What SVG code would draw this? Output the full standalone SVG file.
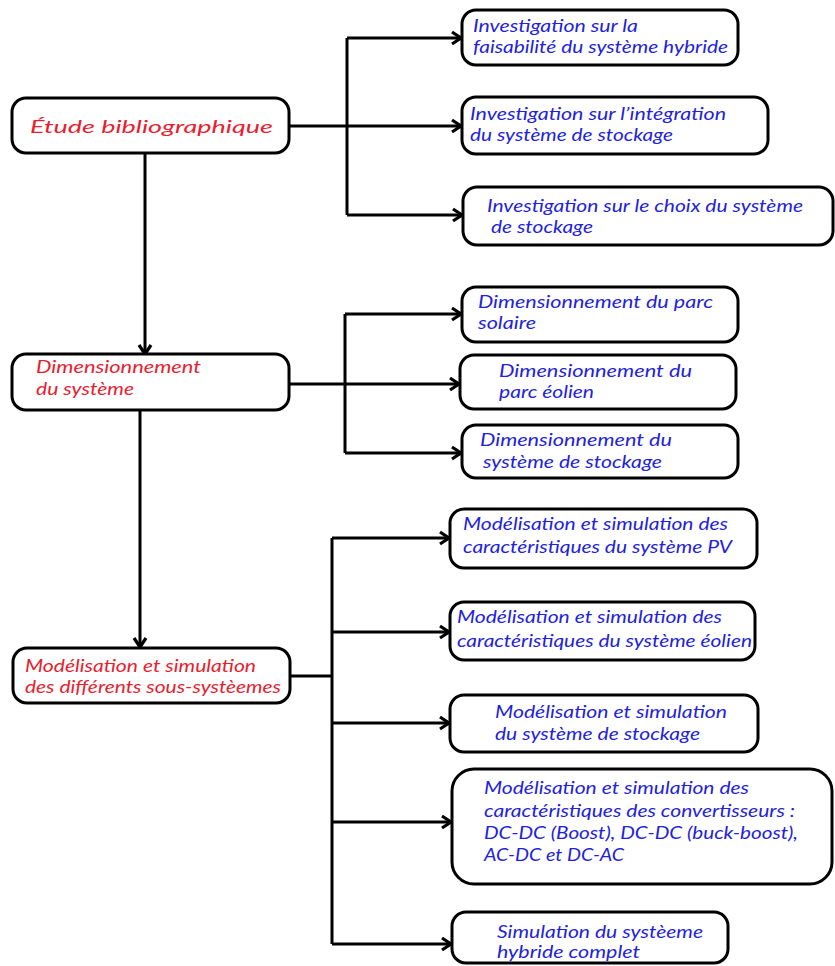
<svg xmlns="http://www.w3.org/2000/svg" width="835" height="966" viewBox="0 0 835 966">
<style>
.box{fill:#fff;stroke:#000;stroke-width:3}
.c{fill:none;stroke:#000;stroke-width:3}
text{font-family:Lato,"Liberation Sans",sans-serif;font-style:italic;font-size:17px}
.r{fill:#e8202e}
.b{fill:#2222dd}
</style>
<defs>
<marker id="ah" markerUnits="userSpaceOnUse" markerWidth="14" markerHeight="16" viewBox="0 0 14 16" refX="11" refY="8" orient="auto">
<path d="M2,2 L11,8 L2,14" fill="none" stroke="#000" stroke-width="3.2" stroke-linejoin="miter"/>
</marker>
</defs>
<rect width="835" height="966" fill="#fff"/>
<g id="connectors">
<path class="c" d="M289,126 H347 M347,38 V215"/>
<path class="c" d="M347,38 H461" marker-end="url(#ah)"/>
<path class="c" d="M347,126 H461" marker-end="url(#ah)"/>
<path class="c" d="M347,215 H462" marker-end="url(#ah)"/>
<path class="c" d="M145,153 V354" marker-end="url(#ah)"/>
<path class="c" d="M289,384 H345 M345,314 V453"/>
<path class="c" d="M345,314 H461" marker-end="url(#ah)"/>
<path class="c" d="M345,384 H459" marker-end="url(#ah)"/>
<path class="c" d="M345,453 H461" marker-end="url(#ah)"/>
<path class="c" d="M140,410 V647" marker-end="url(#ah)"/>
<path class="c" d="M290,676 H332 M332,538 V944"/>
<path class="c" d="M332,538 H449" marker-end="url(#ah)"/>
<path class="c" d="M332,632 H449" marker-end="url(#ah)"/>
<path class="c" d="M332,723 H449" marker-end="url(#ah)"/>
<path class="c" d="M332,822 H451" marker-end="url(#ah)"/>
<path class="c" d="M332,944 H451" marker-end="url(#ah)"/>
</g>
<g id="etude">
<rect class="box" x="12" y="98" width="277" height="55" rx="14"/>
<text class="r" x="30" y="133" font-size="22" textLength="243" lengthAdjust="spacingAndGlyphs">Étude bibliographique</text>
</g>
<g id="inv1">
<rect class="box" x="462" y="10" width="276" height="55" rx="14"/>
<text class="b" x="473" y="32" textLength="165" lengthAdjust="spacingAndGlyphs">Investigation sur la</text>
<text class="b" x="473" y="53" textLength="255" lengthAdjust="spacingAndGlyphs">faisabilité du système hybride</text>
</g>
<g id="inv2">
<rect class="box" x="462" y="97" width="306" height="57" rx="14"/>
<text class="b" x="470" y="120" textLength="256" lengthAdjust="spacingAndGlyphs">Investigation sur l’intégration</text>
<text class="b" x="470" y="141" textLength="203" lengthAdjust="spacingAndGlyphs">du système de stockage</text>
</g>
<g id="inv3">
<rect class="box" x="463" y="187" width="370" height="58" rx="14"/>
<text class="b" x="487" y="212" textLength="316" lengthAdjust="spacingAndGlyphs">Investigation sur le choix du système</text>
<text class="b" x="491" y="233" textLength="102" lengthAdjust="spacingAndGlyphs">de stockage</text>
</g>
<g id="dim">
<rect class="box" x="12" y="354" width="277" height="56" rx="14"/>
<text class="r" x="36" y="373" textLength="165" lengthAdjust="spacingAndGlyphs">Dimensionnement</text>
<text class="r" x="36" y="395" textLength="98" lengthAdjust="spacingAndGlyphs">du système</text>
</g>
<g id="dim1">
<rect class="box" x="462" y="287" width="276" height="55" rx="14"/>
<text class="b" x="478" y="308" textLength="235" lengthAdjust="spacingAndGlyphs">Dimensionnement du parc</text>
<text class="b" x="478" y="329" textLength="58" lengthAdjust="spacingAndGlyphs">solaire</text>
</g>
<g id="dim2">
<rect class="box" x="460" y="355" width="276" height="54" rx="14"/>
<text class="b" x="499" y="377" textLength="193" lengthAdjust="spacingAndGlyphs">Dimensionnement du</text>
<text class="b" x="499" y="398" textLength="95" lengthAdjust="spacingAndGlyphs">parc éolien</text>
</g>
<g id="dim3">
<rect class="box" x="462" y="425" width="276" height="53" rx="14"/>
<text class="b" x="480" y="446" textLength="192" lengthAdjust="spacingAndGlyphs">Dimensionnement du</text>
<text class="b" x="483" y="468" textLength="179" lengthAdjust="spacingAndGlyphs">système de stockage</text>
</g>
<g id="mod">
<rect class="box" x="13" y="648" width="277" height="55" rx="14"/>
<text class="r" x="25" y="672" textLength="231" lengthAdjust="spacingAndGlyphs">Modélisation et simulation</text>
<text class="r" x="25" y="693" textLength="256" lengthAdjust="spacingAndGlyphs">des différents sous-systèemes</text>
</g>
<g id="mod1">
<rect class="box" x="450" y="509" width="307" height="59" rx="14"/>
<text class="b" x="463" y="530" textLength="265" lengthAdjust="spacingAndGlyphs">Modélisation et simulation des</text>
<text class="b" x="463" y="553" textLength="269" lengthAdjust="spacingAndGlyphs">caractéristiques du système PV</text>
</g>
<g id="mod2">
<rect class="box" x="450" y="602" width="305" height="58" rx="14"/>
<text class="b" x="457" y="623" textLength="265" lengthAdjust="spacingAndGlyphs">Modélisation et simulation des</text>
<text class="b" x="457" y="647" textLength="295" lengthAdjust="spacingAndGlyphs">caractéristiques du système éolien</text>
</g>
<g id="mod3">
<rect class="box" x="450" y="695" width="308" height="57" rx="14"/>
<text class="b" x="495" y="718" textLength="232" lengthAdjust="spacingAndGlyphs">Modélisation et simulation</text>
<text class="b" x="495" y="740" textLength="205" lengthAdjust="spacingAndGlyphs">du système de stockage</text>
</g>
<g id="mod4">
<rect class="box" x="452" y="769" width="380" height="115" rx="22"/>
<text class="b" x="484" y="794" textLength="265" lengthAdjust="spacingAndGlyphs">Modélisation et simulation des</text>
<text class="b" x="484" y="817" textLength="311" lengthAdjust="spacingAndGlyphs">caractéristiques des convertisseurs :</text>
<text class="b" x="484" y="839" textLength="314" lengthAdjust="spacingAndGlyphs">DC-DC (Boost), DC-DC (buck-boost),</text>
<text class="b" x="484" y="861" textLength="140" lengthAdjust="spacingAndGlyphs">AC-DC et DC-AC</text>
</g>
<g id="sim">
<rect class="box" x="452" y="912" width="276" height="51" rx="14"/>
<text class="b" x="497" y="938" textLength="206" lengthAdjust="spacingAndGlyphs">Simulation du systèeme</text>
<text class="b" x="497" y="958" textLength="143" lengthAdjust="spacingAndGlyphs">hybride complet</text>
</g>
</svg>
